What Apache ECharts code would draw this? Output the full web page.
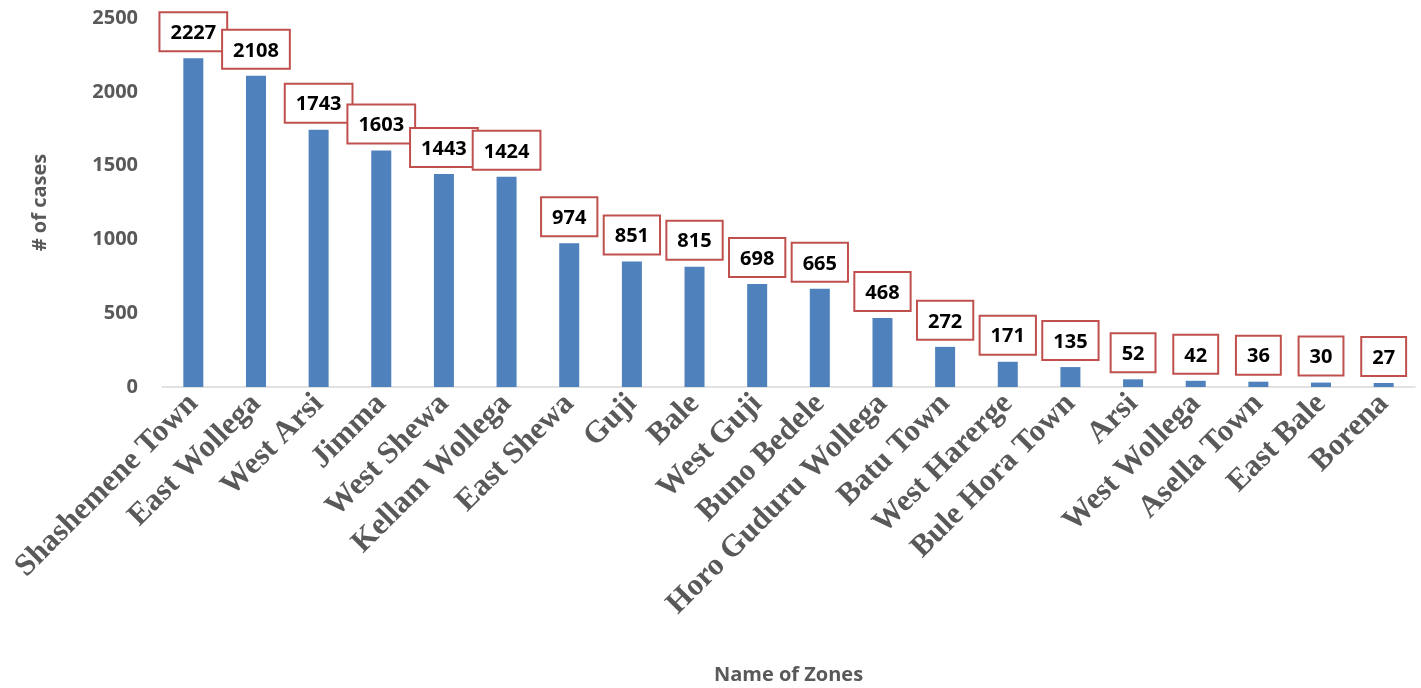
<!DOCTYPE html>
<html>
<head>
<meta charset="utf-8">
<script src="https://cdn.jsdelivr.net/npm/echarts@6/dist/echarts.min.js"></script>
<style>
  html, body { margin: 0; padding: 0; background: #fff; }
  #chart { width: 1421px; height: 688px; }
</style>
</head>
<body>
<div id="chart"></div>
<script>
// zones and case counts
var zones = ['Shashemene Town', 'East Wollega', 'West Arsi', 'Jimma', 'West Shewa', 'Kellam Wollega',
  'East Shewa', 'Guji', 'Bale', 'West Guji', 'Buno Bedele', 'Horo Guduru Wollega', 'Batu Town',
  'West Harerge', 'Bule Hora Town', 'Arsi', 'West Wollega', 'Asella Town', 'East Bale', 'Borena'];
var cases = [2227, 2108, 1743, 1603, 1443, 1424, 974, 851, 815, 698, 665, 468, 272, 171, 135, 52, 42, 36, 30, 27];

var yMin = 0, yMax = 2500, yStep = 500;

var labelFont = 'Open Sans, Liberation Sans, sans-serif';
var grey = '#595959';

var myChart = echarts.init(document.getElementById('chart'));
var option = {
  animation: false,
  grid: { left: 162, right: 6, top: 18, bottom: 301, outerBoundsMode: 'none', containLabel: false },
  xAxis: {
    type: 'category',
    data: zones,
    name: 'Name of Zones',
    nameLocation: 'middle',
    nameGap: 278,
    nameTextStyle: { color: grey, fontWeight: 'bold', fontSize: 20, fontFamily: labelFont },
    axisLine: { lineStyle: { color: '#d9d9d9', width: 1.5 } },
    axisTick: { show: false },
    axisLabel: {
      interval: 0,
      rotate: 45,
      margin: 12,
      color: grey,
      fontWeight: 'bold',
      fontSize: 31,
      fontFamily: 'Liberation Serif, Times New Roman, serif'
    }
  },
  yAxis: {
    type: 'value',
    min: yMin,
    max: yMax,
    interval: yStep,
    name: '# of cases',
    nameLocation: 'middle',
    nameGap: 112,
    nameTextStyle: { color: grey, fontWeight: 'bold', fontSize: 20, fontFamily: labelFont },
    axisLine: { show: false },
    axisTick: { show: false },
    splitLine: { show: false },
    axisLabel: {
      color: grey, fontWeight: 'bold', fontSize: 20, margin: 24, fontFamily: labelFont,
      formatter: function (v) { return String(v); }
    }
  },
  series: [{
    type: 'bar',
    data: cases,
    barWidth: 20,
    itemStyle: { color: '#4F81BD' },
    label: {
      show: true,
      position: 'top',
      distance: 8,
      color: '#000',
      fontWeight: 'bold',
      fontSize: 20,
      fontFamily: labelFont,
      backgroundColor: '#fff',
      borderColor: '#C0504D',
      borderWidth: 2,
      padding: [10, 10, 7, 10]
    }
  }]
};
myChart.setOption(option);
</script>
</body>
</html>
